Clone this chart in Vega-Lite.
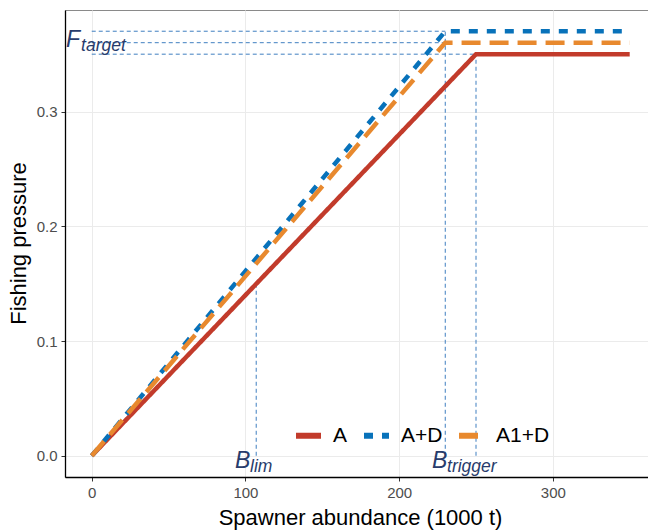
{
  "$schema": "https://vega.github.io/schema/vega-lite/v6.json",
  "width": 583,
  "height": 467,
  "autosize": {"type": "none"},
  "padding": {"left": 65, "top": 10, "right": 0, "bottom": 54},
  "background": "white",
  "config": {
    "font": "Liberation Sans",
    "view": {"stroke": "#8a8a8a", "strokeWidth": 1},
    "axis": {
      "domainColor": "#000000",
      "domainWidth": 1.3,
      "tickColor": "#333333",
      "tickSize": 4,
      "labelFontSize": 15,
      "labelColor": "#4d4d4d",
      "labelPadding": 4,
      "gridColor": "#ebebeb",
      "gridWidth": 1,
      "titleFontSize": 22,
      "titleFontWeight": "normal",
      "titleColor": "#000000"
    },
    "legend": {
      "orient": "none",
      "legendX": 228,
      "legendY": 410,
      "direction": "horizontal",
      "symbolType": "stroke",
      "symbolSize": 625,
      "symbolStrokeWidth": 6,
      "labelFontSize": 21,
      "labelColor": "#000000",
      "labelOffset": 9,
      "columnPadding": 4,
      "padding": 0
    }
  },
  "datasets": {
    "curves": [
      {"series": "A", "x": 0, "y": 0},
      {"series": "A", "x": 250, "y": 0.35},
      {"series": "A", "x": 350, "y": 0.35},
      {"series": "A+D", "x": 0, "y": 0},
      {"series": "A+D", "x": 230, "y": 0.37},
      {"series": "A+D", "x": 350, "y": 0.37},
      {"series": "A1+D", "x": 0, "y": 0},
      {"series": "A1+D", "x": 230, "y": 0.36},
      {"series": "A1+D", "x": 350, "y": 0.36}
    ],
    "refs": [
      {"x": 0, "x2": 230, "y": 0.37, "y2": 0.37},
      {"x": 0, "x2": 230, "y": 0.36, "y2": 0.36},
      {"x": 0, "x2": 250, "y": 0.35, "y2": 0.35},
      {"x": 230, "x2": 230, "y": 0, "y2": 0.37},
      {"x": 250, "x2": 250, "y": 0, "y2": 0.35},
      {"x": 107, "x2": 107, "y": 0, "y2": 0.1498}
    ],
    "labels": [
      {"big": "F", "sub": "target", "x": -16.7, "y": 0.3563},
      {"big": "B", "sub": "lim", "x": 93.2, "y": -0.0106},
      {"big": "B", "sub": "trigger", "x": 221.4, "y": -0.0106}
    ]
  },
  "encoding": {
    "x": {
      "field": "x",
      "type": "quantitative",
      "scale": {"domain": [-17.4, 361.9], "nice": false, "zero": false},
      "axis": {"values": [0, 100, 200, 300], "title": "Spawner abundance (1000 t)", "titleX": 295, "titleY": 40, "titleBaseline": "middle"}
    },
    "y": {
      "field": "y",
      "type": "quantitative",
      "scale": {"domain": [-0.0185, 0.3885], "nice": false, "zero": false},
      "axis": {"values": [0, 0.1, 0.2, 0.3], "format": ".1f", "title": "Fishing pressure", "titleX": -47, "titleY": 233, "titleBaseline": "middle", "titleAngle": 270, "titleAlign": "center"}
    }
  },
  "layer": [
    {
      "data": {"name": "refs"},
      "mark": {"type": "rule", "color": "#3f7fc0", "strokeDash": [4, 3], "strokeWidth": 1},
      "encoding": {
        "x2": {"field": "x2"},
        "y2": {"field": "y2"}
      }
    },
    {
      "data": {"name": "curves"},
      "mark": {"type": "line", "strokeWidth": 4.5, "clip": true},
      "encoding": {
        "color": {
          "field": "series",
          "type": "nominal",
          "scale": {"domain": ["A", "A+D", "A1+D"], "range": ["#C23B2B", "#0872BA", "#E8892E"]},
          "legend": {"title": null}
        },
        "strokeDash": {
          "field": "series",
          "type": "nominal",
          "scale": {"domain": ["A", "A+D", "A1+D"], "range": [[1, 0], [9, 9], [19, 9]]},
          "legend": {"title": null}
        }
      }
    },
    {
      "data": {"name": "labels"},
      "mark": {"type": "text", "align": "left", "baseline": "alphabetic", "fontSize": 23, "fontStyle": "italic", "color": "#283c6c"},
      "encoding": {"text": {"field": "big"}}
    },
    {
      "data": {"name": "labels"},
      "mark": {"type": "text", "align": "left", "baseline": "alphabetic", "fontSize": 17.5, "fontStyle": "italic", "color": "#283c6c", "dx": 15, "dy": 4},
      "encoding": {"text": {"field": "sub"}}
    }
  ]
}
